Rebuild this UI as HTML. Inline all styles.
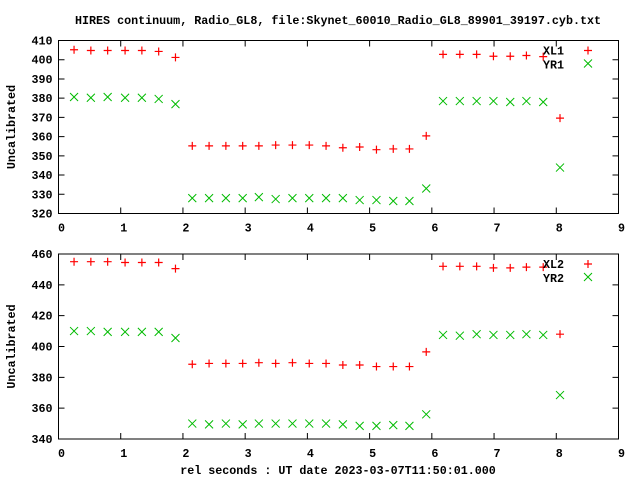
<!DOCTYPE html>
<html><head><meta charset="utf-8"><style>
body{margin:0;background:#fff}
svg text{font-family:"Liberation Mono",monospace;font-weight:bold;font-size:11.7px;fill:#000}
</style></head><body>
<svg id="c" width="640" height="480" xmlns="http://www.w3.org/2000/svg"></svg>
<script>
const xs=[0.25,0.52,0.79,1.07,1.34,1.61,1.88,2.15,2.42,2.69,2.96,3.22,3.49,3.76,4.03,4.3,4.57,4.84,5.11,5.38,5.64,5.91,6.18,6.45,6.72,6.99,7.26,7.52,7.79,8.06];
const xl1=[405.2,404.8,404.8,404.8,404.8,404.3,401.2,355.2,355.2,355.2,355.2,355.2,355.6,355.6,355.6,355.2,354.2,354.6,353.2,353.6,353.6,360.4,402.8,402.8,402.8,401.8,401.8,402.2,401.6,369.6];
const yr1=[380.6,380.2,380.6,380.2,380.2,379.6,376.9,328.0,328.0,328.0,328.0,328.5,327.5,328.0,328.0,328.0,328.0,327.0,327.0,326.5,326.5,333.0,378.5,378.5,378.5,378.5,378.0,378.5,378.0,343.9];
const xl2=[455,455,455,454.5,454.5,454.5,450.5,388.5,389,389,389,389.5,389,389.5,389,389,388,388,387,387,387,396.5,452,452,452,451,451,451.5,451.5,408];
const yr2=[410,410,409.5,409.5,409.5,409.5,405.5,350,349.5,350,349.5,350,350,350,350,350,349.5,348.5,348.5,349,348.5,356,407.5,407,408,407.5,407.5,408,407.5,368.5];
const xTicks=[0,1,2,3,4,5,6,7,8,9];
const yTicks1=[320,330,340,350,360,370,380,390,400,410];
const yTicks2=[340,360,380,400,420,440,460];
const NS="http://www.w3.org/2000/svg",svg=document.getElementById('c');
function el(t,a,p){const e=document.createElementNS(NS,t);for(const k in a)e.setAttribute(k,a[k]);(p||svg).appendChild(e);return e;}
function txt(s,x,y,anchor,p){const e=el('text',{x:x,y:y,'text-anchor':anchor||'middle'},p);e.textContent=s;return e;}
const X0=58.5,X1=618.5;
function sx(v){return X0+(v-0)/9*(X1-X0);}
const t=txt('HIRES continuum, Radio_GL8, file:Skynet_60010_Radio_GL8_89901_39197.cyb.txt',338,24);

function plus(g,x,y,c){el('path',{d:`M${x-4} ${y}h8M${x} ${y-4}v8`,stroke:c,'stroke-width':1.2,fill:'none'},g);}
function cross(g,x,y,c){el('path',{d:`M${x-4} ${y-4}l8 8M${x-4} ${y+4}l8 -8`,stroke:c,'stroke-width':1,fill:'none'},g);}
function panel(name,top,bot,ymin,ymax,yt,s1,s2,n1,n2){
  const g=el('g',{});
  const sy=v=>bot-(v-ymin)/(ymax-ymin)*(bot-top);
  el('rect',{x:X0,y:top,width:X1-X0,height:bot-top,fill:'none',stroke:'#000','stroke-width':1},g);
  const ax=el('g',{},g);
  yt.forEach(v=>{const y=sy(v);el('path',{d:`M${X0} ${y}h6M${X1} ${y}h-6`,stroke:'#000'},ax);txt(String(v),X0-6,y+4,'end',ax);});
  const bx=el('g',{},g);
  xTicks.forEach(v=>{const x=sx(v);el('path',{d:`M${x} ${bot}v-6M${x} ${top}v6`,stroke:'#000'},bx);txt(String(v),x+3,bot+18,'middle',bx);});
  const yl=txt('Uncalibrated',0,0,'middle',g);yl.setAttribute('transform',`translate(15,${(top+bot)/2}) rotate(-90)`);
  
  const g1=el('g',{},g);
  xs.forEach((x,i)=>plus(g1,sx(x),sy(s1[i]),'#f00'));
  const g2=el('g',{},g);
  xs.forEach((x,i)=>cross(g2,sx(x),sy(s2[i]),'#0b0'));
  const lg=el('g',{},g);
  txt(n1,564,top+14,'end',lg);plus(lg,588,top+10,'#f00');
  txt(n2,564,top+28,'end',lg);cross(lg,588,top+23,'#0b0');
}
panel('top-panel',40.5,213.5,320,410,yTicks1,xl1,yr1,'XL1','YR1');
panel('bottom-panel',254,439,340,460,yTicks2,xl2,yr2,'XL2','YR2');
const xt=txt('rel seconds : UT date 2023-03-07T11:50:01.000',338,474);

</script>
</body></html>
